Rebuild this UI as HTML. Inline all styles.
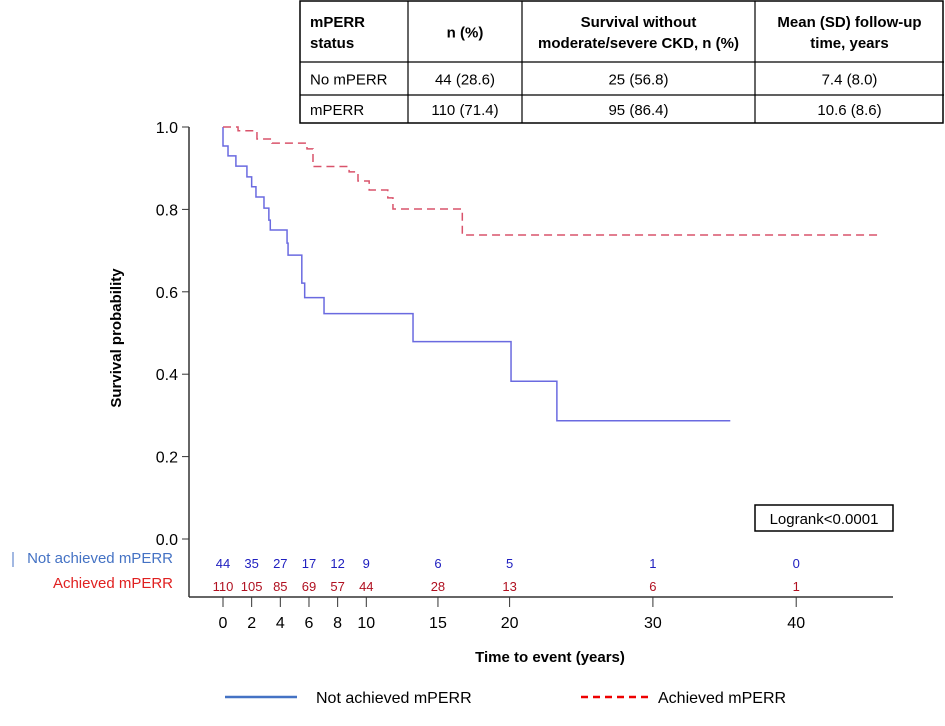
<!DOCTYPE html>
<html><head><meta charset="utf-8"><style>
body{margin:0;background:#fff;width:945px;height:721px;overflow:hidden;font-family:"Liberation Sans",sans-serif}
svg text{font-family:"Liberation Sans",sans-serif}
</style></head><body>
<svg id="chart" width="945" height="721" xmlns="http://www.w3.org/2000/svg">
<g id="tbl"></g>
<g id="axes"></g>
<g id="curves"></g>
<g id="risk"></g>
<g>
<rect x="755" y="505" width="138" height="26" fill="#fff" stroke="#000" stroke-width="1.5"/>
<text x="824" y="524" font-size="15" text-anchor="middle">Logrank&lt;0.0001</text></g>
<text transform="translate(121,338) rotate(-90)" font-size="15" font-weight="bold" text-anchor="middle">Survival probability</text>
<text x="550" y="662" font-size="15" font-weight="bold" text-anchor="middle">Time to event (years)</text>
<g>
<line x1="225" y1="697" x2="297" y2="697" stroke="#4472c4" stroke-width="2.5"/>
<text x="316" y="703" font-size="16">Not achieved mPERR</text>
<line x1="581" y1="697" x2="652" y2="697" stroke="#e00" stroke-width="2.5" stroke-dasharray="7,5"/>
<text x="658" y="703" font-size="16">Achieved mPERR</text>
</g>
</svg>
<script>
const xTicks=[0,2,4,6,8,10,15,20,30,40];
const yTicks=[0,0.2,0.4,0.6,0.8,1.0];
const blueT=[0,0.35,0.9,1.67,2.0,2.3,2.86,3.2,3.3,4.47,4.54,5.5,5.7,7.05,13.26,20.1,23.3];
const blueS=[1.0,0.954,0.93,0.905,0.879,0.855,0.83,0.803,0.774,0.75,0.718,0.689,0.621,0.586,0.547,0.479,0.383,0.287];
const blueEnd=35.4;
const redT=[1.05,2.37,3.42,5.86,6.28,8.8,9.42,10.2,11.5,11.86,16.7];
const redS=[1.0,0.991,0.971,0.961,0.947,0.904,0.891,0.869,0.847,0.828,0.801,0.738];
const redEnd=45.7;
const riskNot=[44,35,27,17,12,9,6,5,1,0];
const riskAch=[110,105,85,69,57,44,28,13,6,1];
const tblRows=[["mPERR|status","n (%)","Survival without|moderate/severe CKD, n (%)","Mean (SD) follow-up|time, years"],["No mPERR","44 (28.6)","25 (56.8)","7.4 (8.0)"],["mPERR","110 (71.4)","95 (86.4)","10.6 (8.6)"]];
const NS="http://www.w3.org/2000/svg";
const X=t=>223+t*14.33, Y=v=>539-v*412;
function mk(p,tag,a,txt){const e=document.createElementNS(NS,tag);for(const k in a)e.setAttribute(k,a[k]);if(txt!==undefined)e.textContent=txt;p.appendChild(e);return e;}
const ax=document.getElementById('axes');
mk(ax,'line',{x1:189,y1:127,x2:189,y2:597,stroke:'#333','stroke-width':1.5});
mk(ax,'line',{x1:189,y1:597,x2:893,y2:597,stroke:'#333','stroke-width':1.5});
yTicks.forEach(v=>{mk(ax,'line',{x1:182,y1:Y(v),x2:189,y2:Y(v),stroke:'#333'});
const t=mk(ax,'text',{x:178,y:Y(v)+6,'font-size':16,'text-anchor':'end'},v.toFixed(1));

});
xTicks.forEach(v=>{mk(ax,'line',{x1:X(v),y1:597,x2:X(v),y2:607,stroke:'#333'});
const t=mk(ax,'text',{x:X(v),y:628,'font-size':16,'text-anchor':'middle'},v);

});
function stepPath(T,S,end){let d=`M${X(0)},${Y(S[0])}`;T.forEach((t,i)=>{d+=`H${X(t)}V${Y(S[i+1])}`;});return d+`H${X(end)}`;}
const cv=document.getElementById('curves');
const b=mk(cv,'path',{d:stepPath(blueT,blueS,blueEnd),fill:'none',stroke:'#6a6ae0','stroke-width':1.5});


const r=mk(cv,'path',{d:stepPath(redT,redS,redEnd),fill:'none',stroke:'#d9536b','stroke-width':1.5,'stroke-dasharray':'8,5'});


const rk=document.getElementById('risk');
const l1=mk(rk,'text',{x:173,y:563,'font-size':15,fill:'#4472c4','text-anchor':'end'},'Not achieved mPERR');


mk(rk,'line',{x1:13,y1:552,x2:13,y2:567,stroke:'#4472c4'});
const l2=mk(rk,'text',{x:173,y:588,'font-size':15,fill:'#e02020','text-anchor':'end'},'Achieved mPERR');


xTicks.forEach((v,i)=>{
const a=mk(rk,'text',{x:X(v),y:568,'font-size':13,fill:'#2020c0','text-anchor':'middle'},riskNot[i]);


const c=mk(rk,'text',{x:X(v),y:591,'font-size':13,fill:'#b01020','text-anchor':'middle'},riskAch[i]);

});
const tb=document.getElementById('tbl');
const cols=[300,408,522,755,944], rows=[1,62,95,123];
mk(tb,'rect',{x:300,y:1,width:643,height:122,fill:'#fff',stroke:'#000','stroke-width':1.5});
cols.slice(1,-1).forEach(c=>mk(tb,'line',{x1:c,y1:1,x2:c,y2:123,stroke:'#000','stroke-width':1.2}));
rows.slice(1,-1).forEach(rw=>mk(tb,'line',{x1:300,y1:rw,x2:944,y2:rw,stroke:'#000','stroke-width':1.2}));
tblRows.forEach((row,ri)=>row.forEach((cell,ci)=>{
const lines=cell.split('|');const left=ci===0;
const cx=left?cols[0]+10:(cols[ci]+cols[ci+1])/2;
const cy=(rows[ri]+rows[ri+1])/2;
lines.forEach((ln,k)=>{
const t=mk(tb,'text',{x:cx,y:cy+6+(k-(lines.length-1)/2)*21,'font-size':15,'font-weight':ri===0?'bold':'normal','text-anchor':left?'start':'middle'},ln);

});
}));
</script>
</body></html>
